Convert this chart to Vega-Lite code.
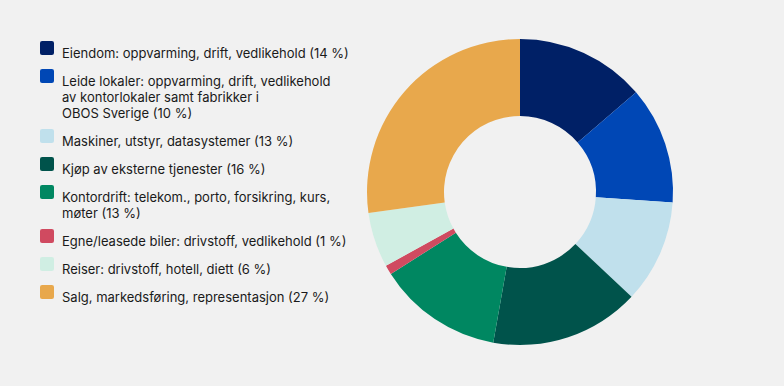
{
  "$schema": "https://vega.github.io/schema/vega-lite/v6.json",
  "autosize": {"type": "none"},
  "width": 306,
  "height": 306,
  "padding": {"left": 367, "top": 39, "right": 111, "bottom": 41},
  "background": "#f1f1f1",
  "config": {"view": {"stroke": null}, "style": {"guide-label": {"lineHeight": 16}}},
  "data": {
    "values": [
      {"order": 1, "category": "Eiendom: oppvarming, drift, vedlikehold (14 %)", "value": 13.7},
      {"order": 2, "category": "Leide lokaler: oppvarming, drift, vedlikehold|av kontorlokaler samt fabrikker i|OBOS Sverige (10 %)", "value": 12.4},
      {"order": 3, "category": "Maskiner, utstyr, datasystemer (13 %)", "value": 10.9},
      {"order": 4, "category": "Kjøp av eksterne tjenester (16 %)", "value": 15.8},
      {"order": 5, "category": "Kontordrift: telekom., porto, forsikring, kurs,|møter (13 %)", "value": 13.2},
      {"order": 6, "category": "Egne/leasede biler: drivstoff, vedlikehold (1 %)", "value": 1.0},
      {"order": 7, "category": "Reiser: drivstoff, hotell, diett (6 %)", "value": 5.8},
      {"order": 8, "category": "Salg, markedsføring, representasjon (27 %)", "value": 27.2}
    ]
  },
  "mark": {"type": "arc", "outerRadius": 153, "innerRadius": 76, "stroke": null},
  "encoding": {
    "theta": {"field": "value", "type": "quantitative", "stack": true},
    "order": {"field": "order", "type": "quantitative"},
    "color": {
      "field": "category",
      "type": "nominal",
      "sort": null,
      "scale": {
        "domain": [
          "Eiendom: oppvarming, drift, vedlikehold (14 %)",
          "Leide lokaler: oppvarming, drift, vedlikehold|av kontorlokaler samt fabrikker i|OBOS Sverige (10 %)",
          "Maskiner, utstyr, datasystemer (13 %)",
          "Kjøp av eksterne tjenester (16 %)",
          "Kontordrift: telekom., porto, forsikring, kurs,|møter (13 %)",
          "Egne/leasede biler: drivstoff, vedlikehold (1 %)",
          "Reiser: drivstoff, hotell, diett (6 %)",
          "Salg, markedsføring, representasjon (27 %)"
        ],
        "range": ["#002066", "#0047b5", "#c0e0ec", "#00534b", "#008761", "#d04a60", "#d0eee3", "#e8a84c"]
      },
      "legend": {
        "title": null,
        "orient": "none",
        "legendX": -327,
        "legendY": 2,
        "padding": 0,
        "symbolType": "M-0.7,-1H0.7Q1,-1 1,-0.7V0.7Q1,1 0.7,1H-0.7Q-1,1 -1,0.7V-0.7Q-1,-1 -0.7,-1Z",
        "symbolSize": 196,
        "symbolStrokeWidth": 0,
        "symbolOpacity": 1,
        "labelFont": "Inter",
        "labelFontSize": 13,
        "labelColor": "#1a1a1a",
        "labelOffset": 8,
        "labelLimit": 500,
        "labelBaseline": "top",
        "rowPadding": 8,
        "labelExpr": "split(datum.label, '|')",
        "encode": {
          "labels": {"lineHeight": {"value": 16}, "dy": {"value": -7}}
        }
      }
    }
  }
}
